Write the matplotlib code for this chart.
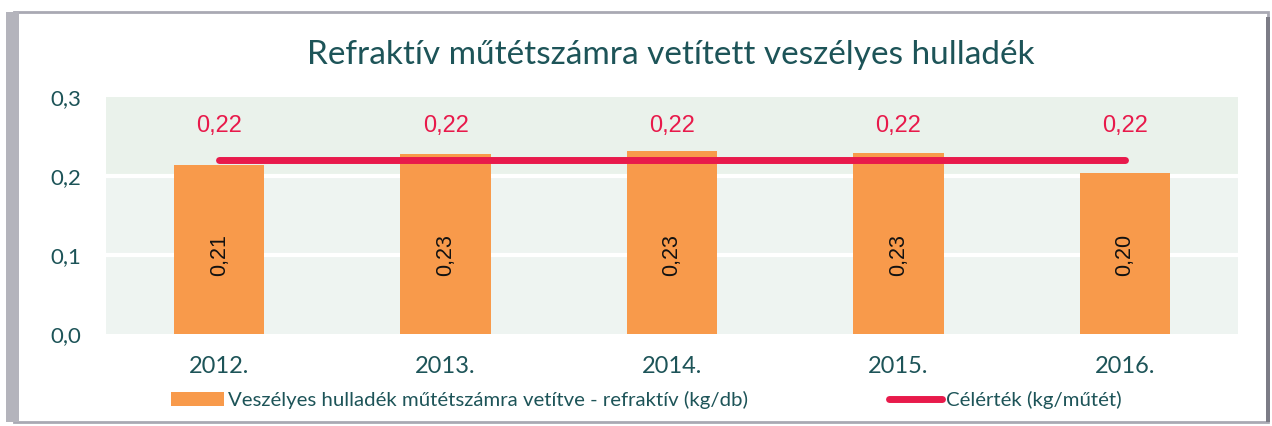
import matplotlib.pyplot as plt
from matplotlib.patches import Rectangle

years = ["2012.", "2013.", "2014.", "2015.", "2016."]
waste = [0.214, 0.228, 0.232, 0.229, 0.204]
target = [0.22, 0.22, 0.22, 0.22, 0.22]

TITLE = "Refraktív műtétszámra vetített veszélyes hulladék"
BAR_LABEL = "Veszélyes hulladék műtétszámra vetítve - refraktív (kg/db)"
LINE_LABEL = "Célérték (kg/műtét)"

TEAL = "#1d5458"
ORANGE = "#f89a4b"
RED = "#e81a4b"


def fmt(v):
    return f"{v:.2f}".replace(".", ",")


def main():
    fig = plt.figure(figsize=(12.72, 4.26), dpi=100)
    ax = fig.add_axes([0.0833, 0.216, 0.89, 0.556])

    # frame around the whole chart
    fig.patches.append(Rectangle((0.011, 0.01), 0.986, 0.962, transform=fig.transFigure,
                                 fill=False, edgecolor="#a9a9b3", linewidth=2))
    fig.patches.append(Rectangle((0.005, 0.01), 0.01, 0.962, transform=fig.transFigure,
                                 color="#b4b4bc", linewidth=0))
    fig.patches.append(Rectangle((0.9955, 0.01), 0.003, 0.95, transform=fig.transFigure,
                                 color="#7c7c86", linewidth=0))

    x = list(range(len(years)))

    # banded background
    ax.set_facecolor("#eef4f1")
    ax.axhspan(0.2, 0.3, color="#eaf2eb", zorder=0)
    for g in (0.1, 0.2):
        ax.axhline(g, color="white", linewidth=3, zorder=1)

    bars = ax.bar(x, waste, width=0.4, color=ORANGE, zorder=2)
    line, = ax.plot(x, target, color=RED, linewidth=5, solid_capstyle="round", zorder=3)

    for xi, v in zip(x, waste):
        ax.text(xi, 0.1, fmt(v), rotation=90, ha="center", va="center",
                fontsize=15.5, family="Liberation Sans", color="#111111", zorder=4)
    for xi, t in zip(x, target):
        ax.annotate(fmt(t), (xi, t), xytext=(0, 17), textcoords="offset points",
                    ha="center", va="bottom", fontsize=17, family="Liberation Sans", color=RED)

    ax.set_xlim(-0.5, len(years) - 0.5)
    ax.set_ylim(0, 0.3)
    ax.set_yticks([0, 0.1, 0.2, 0.3])
    ax.set_yticklabels(["0,0", "0,1", "0,2", "0,3"])
    ax.set_xticks(x)
    ax.set_xticklabels(years)
    ax.tick_params(length=0, labelsize=16, labelcolor=TEAL)
    ax.tick_params(axis="y", pad=18)
    ax.tick_params(axis="x", pad=16, labelsize=17)
    for lbl in ax.get_xticklabels() + ax.get_yticklabels():
        lbl.set_family("Lato")
    for s in ax.spines.values():
        s.set_visible(False)

    fig.text(0.527, 0.87, TITLE, ha="center", va="center", fontsize=24,
             family="Lato", color=TEAL)

    fig.legend([bars, line], [BAR_LABEL, LINE_LABEL], loc="center",
               bbox_to_anchor=(0.508, 0.06), ncol=2, frameon=False,
               prop={"family": "Lato", "size": 14.7}, labelcolor=TEAL,
               handlelength=2.6, handletextpad=0.2, columnspacing=6.9)

    fig.savefig("out.png", dpi=100)


if __name__ == "__main__":
    main()
